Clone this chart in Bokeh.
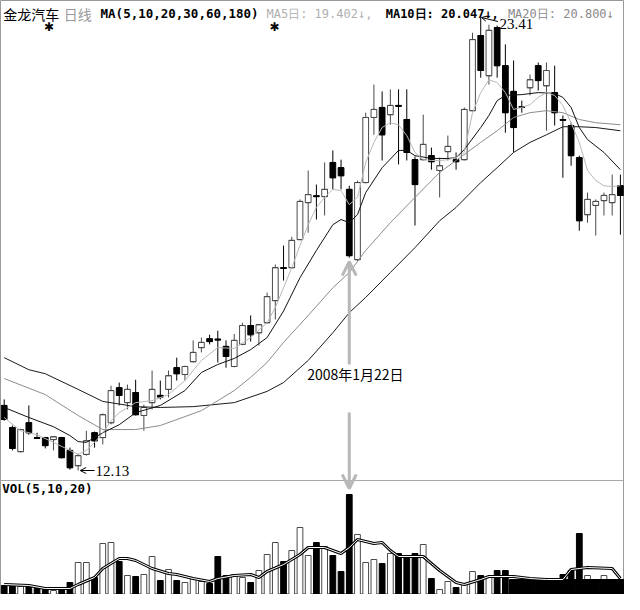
from bokeh.plotting import figure
from bokeh.models import Range1d, Span, Label, Arrow, OpenHead
from bokeh.embed import file_html
from bokeh.resources import INLINE

# ---------------- data ----------------
opens = [13.75, 13.20, 12.60, 13.32, 12.95, 12.95, 12.90, 12.95, 12.63, 12.25,
         12.53, 13.07, 12.95, 13.32, 14.19, 13.82, 14.07, 13.50, 13.82, 14.00,
         14.15, 14.69, 14.52, 14.84, 15.19, 15.41, 15.40, 15.22, 14.72, 15.27,
         15.74, 15.56, 15.81, 16.36, 17.18, 17.18, 17.88, 18.80, 18.97, 18.95,
         19.80, 19.67, 19.13, 17.38, 19.30, 20.92, 21.17, 20.99, 21.22, 20.87,
         19.87, 19.87, 19.97, 19.60, 20.07, 19.87, 19.87, 21.09, 22.96, 21.96,
         23.16, 22.21, 21.57, 21.19, 21.66, 22.21, 21.71, 21.54, 20.87, 20.72,
         19.92, 18.50, 18.73, 18.85, 18.80, 19.22]
highs = [13.90, 13.25, 13.17, 13.75, 13.07, 12.97, 12.98, 12.97, 12.70, 12.55,
         13.12, 13.10, 13.55, 14.24, 14.32, 14.27, 14.39, 13.77, 14.62, 14.37,
         14.62, 14.94, 14.74, 15.37, 15.44, 15.51, 15.61, 15.37, 15.53, 15.81,
         15.99, 15.78, 16.56, 17.26, 17.73, 17.95, 18.88, 19.60, 19.25, 19.80,
         20.10, 19.87, 19.22, 19.35, 21.04, 21.74, 21.57, 21.62, 21.62, 21.62,
         19.95, 20.99, 20.17, 19.92, 20.47, 20.05, 21.17, 23.03, 23.41, 23.23,
         23.21, 22.74, 22.34, 21.34, 21.99, 22.29, 22.29, 22.21, 20.97, 20.79,
         19.97, 19.05, 18.88, 19.05, 19.50, 19.50]
lows = [13.37, 12.63, 12.58, 13.02, 12.93, 12.68, 12.63, 12.43, 12.15, 12.13,
        12.50, 12.70, 12.78, 13.28, 13.75, 13.65, 13.50, 13.12, 13.65, 13.90,
        13.95, 14.37, 14.37, 14.82, 15.07, 15.27, 14.82, 14.69, 14.70, 15.25,
        15.34, 15.24, 15.79, 15.89, 16.86, 17.16, 17.86, 18.05, 18.38, 18.48,
        19.13, 19.13, 17.43, 17.35, 19.28, 20.49, 19.85, 20.74, 19.75, 19.85,
        18.23, 19.85, 19.62, 18.93, 19.85, 19.62, 19.85, 21.07, 21.91, 21.74,
        21.91, 20.54, 20.05, 21.04, 21.47, 21.59, 20.59, 20.72, 19.42, 19.72,
        18.10, 18.30, 17.98, 18.48, 18.48, 18.00]
closes = [13.40, 12.68, 13.15, 13.07, 12.93, 12.75, 12.97, 12.45, 12.20, 12.50,
          12.87, 12.87, 13.52, 14.12, 14.00, 14.15, 13.52, 13.70, 14.15, 13.96,
          14.49, 14.54, 14.72, 15.07, 15.32, 15.34, 15.38, 14.97, 15.37, 15.74,
          15.51, 15.76, 16.46, 17.18, 17.16, 17.86, 18.83, 19.00, 18.95, 19.13,
          19.42, 19.47, 17.48, 19.30, 20.92, 21.12, 20.49, 21.22, 21.20, 20.05,
          19.25, 20.25, 19.82, 19.72, 20.20, 19.82, 21.12, 22.86, 22.09, 23.09,
          22.21, 21.04, 20.67, 21.17, 21.86, 21.84, 22.09, 21.04, 20.85, 19.97,
          18.35, 18.88, 18.83, 18.98, 19.00, 18.98]
volumes = [9, 9, 8, 9, 6, 5, 4, 6, 12, 32,
           32, 17, 51, 52, 33, 19, 18, 20, 38, 14,
           25, 14, 12, 16, 13, 11, 38, 19, 20, 17,
           12, 24, 40, 52, 33, 44, 67, 39, 52, 48,
           39, 23, 100, 60, 32, 35, 31, 41, 41, 38,
           41, 50, 16, 5, 13, 7, 10, 23, 19, 18,
           24, 24, 15, 15, 15, 15, 15, 16, 20, 24,
           61, 19, 15, 19, 15, 15]

ma5_idx = [0, 2, 4, 6, 8, 9, 10, 11, 12, 13, 14, 16, 18, 20, 22, 24, 26, 28, 30, 32,
           33, 34, 35, 36, 37, 38, 39, 40, 41, 42, 43, 44, 45, 46, 47, 48, 49, 50, 51, 52,
           53, 54, 55, 56, 57, 58, 59, 60, 61, 62, 63, 64, 65, 66, 67, 68, 69, 70, 71, 72,
           73, 74, 75]
ma5 = [13.45, 13.12, 13.02, 12.83, 12.63, 12.53, 12.63, 12.83, 13.07, 13.37, 13.57, 13.82, 13.87, 14.02, 14.37, 14.87, 15.19, 15.17, 15.44, 15.81,
       16.19, 16.68, 17.18, 17.73, 18.25, 18.68, 18.93, 19.13, 19.10, 18.75, 18.93, 19.80, 20.30, 20.67, 20.79, 20.74, 20.47, 20.05, 19.87, 19.85,
       19.85, 19.87, 19.92, 20.05, 21.04, 21.54, 21.86, 21.79, 21.54, 21.12, 21.17, 21.24, 21.42, 21.54, 21.47, 21.22, 20.79, 20.30, 19.60, 19.35,
       19.22, 19.20, 19.22]
ma10_idx = [0, 3, 6, 8, 9, 10, 12, 14, 16, 19, 22, 24, 26, 28, 30, 32, 34, 36, 38, 40,
            41, 42, 43, 44, 46, 48, 49, 50, 52, 54, 55, 56, 58, 59, 60, 61, 63, 65, 67, 68,
            69, 70, 71, 73, 75]
ma10 = [13.70, 13.45, 13.22, 13.00, 12.85, 12.83, 13.07, 13.27, 13.57, 13.75, 14.12, 14.57, 14.77, 14.92, 15.14, 15.44, 16.10, 16.93, 17.61, 18.25,
        18.38, 18.30, 18.50, 19.05, 19.67, 20.10, 20.10, 19.97, 19.90, 19.90, 19.92, 20.12, 20.67, 20.97, 21.34, 21.47, 21.49, 21.54, 21.52, 21.42,
        21.17, 20.67, 20.37, 20.05, 19.62]
ma20_idx = [0, 5, 9, 12, 16, 19, 24, 28, 30, 32, 34, 37, 40, 42, 44, 47, 50, 53, 55, 58,
            60, 62, 64, 66, 68, 70, 72, 75]
ma20 = [14.42, 14.02, 13.50, 13.15, 13.15, 13.25, 13.62, 14.12, 14.45, 14.82, 15.32, 15.99, 16.68, 17.06, 17.61, 18.30, 18.93, 19.55, 19.85, 20.30,
        20.59, 20.92, 21.04, 21.09, 21.04, 20.87, 20.79, 20.74]
ma30_idx = [0, 3, 5, 9, 12, 16, 19, 23, 28, 32, 34, 37, 40, 42, 44, 47, 50, 53, 55, 58,
            60, 62, 64, 66, 68, 70, 72, 75]
ma30 = [14.94, 14.64, 14.54, 14.15, 13.85, 13.72, 13.70, 13.72, 13.82, 14.10, 14.32, 14.87, 15.56, 16.06, 16.44, 17.06, 17.68, 18.35, 18.68, 19.30,
        19.67, 20.05, 20.30, 20.49, 20.69, 20.69, 20.67, 20.59]

vol_ma_idx = [0, 3, 5, 8, 9, 11, 12, 14, 15, 16, 18, 20, 21, 23, 25, 26, 28, 30, 31, 32,
              34, 36, 37, 39, 41, 42, 43, 45, 46, 47, 48, 51, 52, 53, 55, 56, 58, 59, 62, 64,
              66, 68, 69, 71, 74, 75]
vol_ma = [10, 9, 6, 6, 10, 17, 26, 36, 36, 34, 26, 21, 20, 16, 13, 16, 19, 20, 17, 23,
          30, 40, 47, 47, 41, 47, 55, 51, 52, 44, 38, 38, 31, 24, 12, 10, 15, 18, 18, 16,
          15, 15, 25, 27, 26, 16]
vol_block_idx = [62, 63, 64, 65, 66, 67, 68, 69, 70, 71, 72, 73, 74, 75]
vol_block = [15, 15, 15, 15, 15, 15, 15, 15, 15, 15, 15, 15, 15, 15]

stock_name = "金龙汽车"
period = "日线"
ma_spec = "MA(5,10,20,30,60,180)"
ma_texts = ["MA5日: 19.402↓,", "MA10日: 20.047↓,", "MA20日: 20.800↓"]
event_date = "2008年1月22日"
event_idx = 42
vol_title = "VOL(5,10,20)"

# ---------------- layout helpers ----------------
def ix(xr):
    return (xr - 11.0) / 8.27

def py(yr):
    return 23.41 - (yr - 25.0) / 40.16

n = len(opens)
idx = list(range(n))
is_up = [c >= o for o, c in zip(opens, closes)]
tops = [max(o, c) for o, c in zip(opens, closes)]
bots = [min(o, c) for o, c in zip(opens, closes)]
UP = "#4a4a4a"
fills = ["white" if u else "black" for u in is_up]
lines = [UP if u else "black" for u in is_up]
BW = 0.7

p = figure(width=624, height=594, x_range=Range1d(-0.45, 75.5),
           y_range=Range1d(py(602), py(8)),
           x_axis_type=None, y_axis_type=None, toolbar_location=None,
           output_backend="svg", min_border=0,
           outline_line_color="#9a9a9a", background_fill_color="white",
           border_fill_color="white")
p.extra_y_ranges = {"vol": Range1d(0, 594)}

p.add_layout(Span(location=py(488), dimension="width", line_color="#a8a8a8", line_width=1))

# candles
p.segment(idx, highs, idx, lows, color=lines, line_width=1)
p.vbar(x=idx, width=BW, top=tops, bottom=bots, fill_color=fills, line_color=lines, line_width=1)
p.segment([i - BW / 2 for i in idx], opens, [i + BW / 2 for i in idx], opens, color=lines, line_width=1)
p.segment([i - BW / 2 for i in idx], closes, [i + BW / 2 for i in idx], closes, color=lines, line_width=1)

# moving averages
p.line(ma30_idx, ma30, color="#1a1a1a", line_width=1)
p.line(ma20_idx, ma20, color="#8c8c8c", line_width=1)
p.line(ma10_idx, ma10, color="#111111", line_width=1)
p.line(ma5_idx, ma5, color="#b8b8b8", line_width=1)

# volume
p.vbar(x=idx, width=BW, top=volumes, bottom=0, fill_color=fills, line_color=lines,
       line_width=1, y_range_name="vol")
p.vbar(x=vol_block_idx, width=1.0, top=vol_block, bottom=0, color="black", y_range_name="vol")
p.line(vol_ma_idx, vol_ma, color="black", line_width=3, y_range_name="vol")
p.line(vol_ma_idx, vol_ma, color="white", line_width=1, y_range_name="vol")

# header
MONO = "DejaVu Sans Mono"
CJK = "Noto Sans CJK SC"
hy = py(21)
p.add_layout(Label(x=ix(10), y=hy, text=stock_name, text_font=CJK, text_font_size="14px",
                   text_color="black", text_baseline="middle"))
p.add_layout(Label(x=ix(71), y=hy, text=period, text_font=CJK, text_font_size="14px",
                   text_color="#9a9a9a", text_baseline="middle"))
p.add_layout(Label(x=ix(108), y=hy, text=ma_spec, text_font=MONO, text_font_size="12.5px",
                   text_font_style="bold", text_color="black", text_baseline="middle"))
p.add_layout(Label(x=ix(275), y=hy, text=ma_texts[0], text_font=MONO, text_font_size="12px",
                   text_color="#b0b0b0", text_baseline="middle"))
p.add_layout(Label(x=ix(395), y=hy, text=ma_texts[1], text_font=MONO, text_font_size="12px",
                   text_font_style="bold", text_color="black", text_baseline="middle"))
p.add_layout(Label(x=ix(518), y=hy, text=ma_texts[2], text_font=MONO, text_font_size="12px",
                   text_color="#8a8a8a", text_baseline="middle"))
for xr in (56, 283):
    p.add_layout(Label(x=ix(xr), y=py(34), text="✱", text_font="DejaVu Sans",
                       text_font_size="12px", text_font_style="bold", text_color="black",
                       text_align="center", text_baseline="middle"))

# extremes
i_min = min(idx, key=lambda i: lows[i])
i_max = max(idx, key=lambda i: highs[i])
p.add_layout(Arrow(end=OpenHead(size=6, line_width=1, line_color="black"),
                   x_start=i_min + 2.0, y_start=lows[i_min], x_end=i_min + 0.25, y_end=lows[i_min],
                   line_color="black", line_width=1))
p.add_layout(Label(x=i_min + 2.1, y=lows[i_min], text=f"{lows[i_min]:.2f}",
                   text_font="Liberation Serif", text_font_size="15px", text_color="black",
                   text_baseline="middle"))
p.add_layout(Arrow(end=OpenHead(size=5, line_width=1, line_color="black"),
                   x_start=i_max + 2.1, y_start=highs[i_max] - 0.1, x_end=i_max + 0.1,
                   y_end=highs[i_max], line_color="black", line_width=1))
p.add_layout(Label(x=i_max + 2.3, y=highs[i_max] - 0.15, text=f"{highs[i_max]:.2f}",
                   text_font="Liberation Serif", text_font_size="15px", text_color="black",
                   text_baseline="middle"))

# event annotation
GR = "#b8b8b8"
p.add_layout(Arrow(end=OpenHead(size=14, line_width=3, line_color=GR),
                   x_start=event_idx, y_start=py(372), x_end=event_idx, y_end=lows[event_idx] - 0.1,
                   line_color=GR, line_width=3))
p.add_layout(Arrow(end=OpenHead(size=14, line_width=3, line_color=GR),
                   x_start=event_idx, y_start=py(420), x_end=event_idx, y_end=py(496),
                   line_color=GR, line_width=3))
p.add_layout(Label(x=event_idx + 0.75, y=py(381), text=event_date, text_font=CJK,
                   text_font_size="14px", text_color="black", text_align="center",
                   text_baseline="middle"))

p.add_layout(Label(x=ix(9), y=py(496), text=vol_title, text_font=MONO, text_font_size="12.5px",
                   text_font_style="bold", text_color="black", text_baseline="middle"))

open("out.html", "w").write(file_html(p, INLINE))
